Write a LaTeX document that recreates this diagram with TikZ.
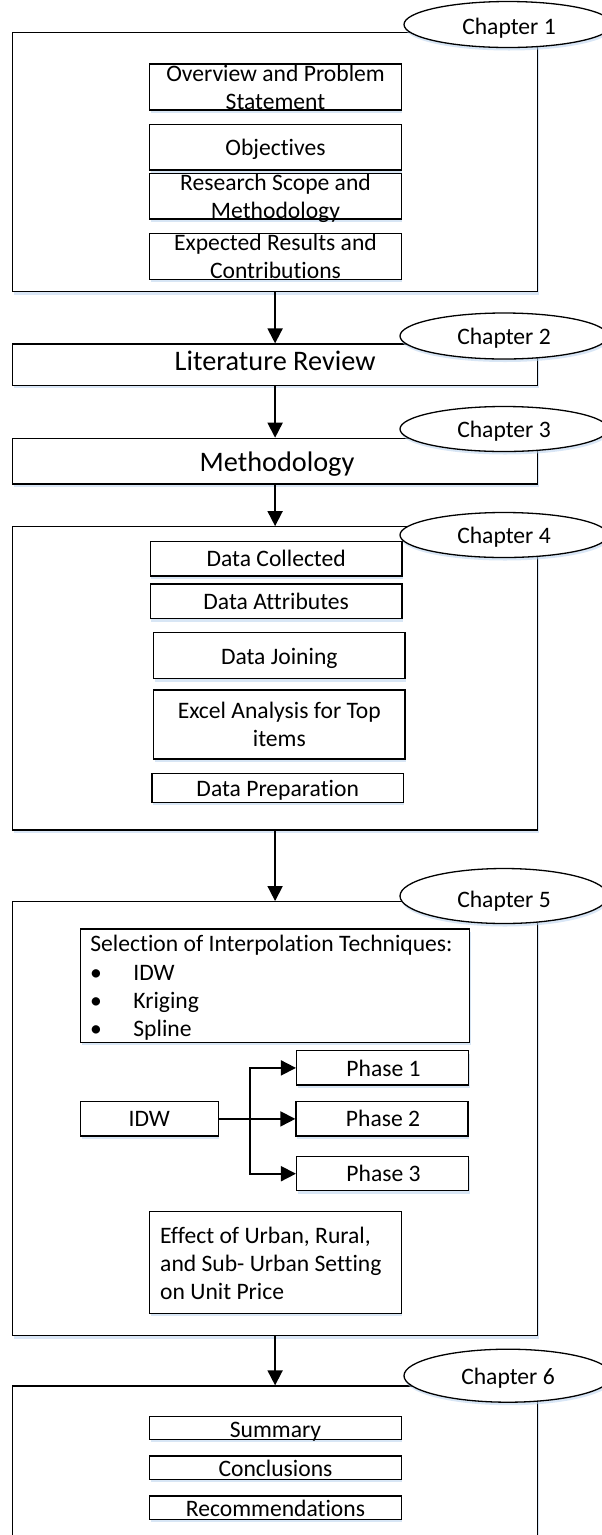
\documentclass[tikz,border=0pt]{standalone}
\usepackage{fontspec}
\setmainfont{Carlito}[Ligatures={NoCommon}]
\usetikzlibrary{shapes.geometric,arrows.meta,shadows}
\definecolor{shadowblue}{RGB}{185,210,238}
\begin{document}
\begin{tikzpicture}[x=1pt,y=-1pt,
  shadowed/.style={drop shadow={shadow xshift=1pt,shadow yshift=-3pt,fill=shadowblue,opacity=.55}},
  chapbox/.style={draw, line width=1.3pt, fill=white, rectangle, inner sep=0pt, minimum width=524.8pt, shadowed},
  itembox/.style={draw, line width=1.3pt, fill=white, rectangle, inner sep=0pt, shadowed},
  midbox/.style={itembox, minimum width=251.5pt},
  phasebox/.style={itembox, minimum width=172pt, minimum height=34.3pt},
  chaplabel/.style={draw, line width=1.3pt, fill=white, ellipse, inner sep=0pt, minimum width=208pt, minimum height=46pt, shadowed},
  txt/.style={font=\fontsize{23.6}{28}\selectfont, inner sep=0pt, anchor=base},
  ltxt/.style={txt, anchor=base west},
  bigtxt/.style={font=\fontsize{28.3}{34}\selectfont, inner sep=0pt, anchor=base},
  arr/.style={line width=1.8pt, -{Triangle[length=15pt,width=15pt]}},
  link/.style={line width=1.8pt}
]
\useasboundingbox (0,0) rectangle (602,1535);
\clip (0,0) rectangle (602,1535);

% ---------- Chapter 1
\node[chapbox, minimum height=259pt] (c1) at (275.1,162.2) {};
\node[chaplabel] (e1) at (508,24.5) {};
\node[txt] (e1t) at (509,34.3) {Chapter 1};
\node[midbox, minimum height=46pt] (ov) at (275.5,87) {};
\node[txt] (ovt1) at (275.5,81) {Overview and Problem};
\node[txt] (ovt2) at (275.5,109) {Statement};
\node[midbox, minimum height=45.7pt] (ob) at (275.5,147.2) {};
\node[txt] (obt) at (275.5,155) {Objectives};
\node[midbox, minimum height=45.7pt] (rs) at (275.5,196.2) {};
\node[txt] (rst1) at (275.5,190) {Research Scope and};
\node[txt] (rst2) at (275.5,218.3) {Methodology};
\node[midbox, minimum height=46pt] (ex) at (275.5,256.3) {};
\node[txt] (ext1) at (275.5,250.7) {Expected Results and};
\node[txt] (ext2) at (275.5,278) {Contributions};

% ---------- Chapter 2
\node[chapbox, minimum height=41.3pt] (c2) at (275.1,364.7) {};
\node[chaplabel] (e2) at (504,336) {};
\node[txt] (e2t) at (504,344.3) {Chapter 2};
\node[bigtxt] (c2t) at (275.1,370.7) {Literature Review};

% ---------- Chapter 3
\node[chapbox, minimum height=45.7pt] (c3) at (275.1,461.2) {};
\node[chaplabel, minimum height=45pt] (e3) at (504,429) {};
\node[txt] (e3t) at (504,437.3) {Chapter 3};
\node[bigtxt] (c3t) at (277,471.7) {Methodology};

% ---------- Chapter 4
\node[chapbox, minimum height=303.3pt] (c4) at (275.1,678.4) {};
\node[chaplabel, minimum height=45pt] (e4) at (504,535) {};
\node[txt] (e4t) at (504,543.3) {Chapter 4};
\node[midbox, minimum height=34.3pt] (dc) at (276.2,558.9) {};
\node[txt] (dct) at (276.2,566.7) {Data Collected};
\node[midbox, minimum height=34.7pt] (da) at (276.2,601.4) {};
\node[txt] (dat) at (276.2,609) {Data Attributes};
\node[midbox, minimum height=46pt] (dj) at (279.3,655.7) {};
\node[txt] (djt) at (279.3,664.3) {Data Joining};
\node[midbox, minimum height=69pt] (ea) at (279.3,724.5) {};
\node[txt] (eat1) at (279.3,718.3) {Excel Analysis for Top};
\node[txt] (eat2) at (279.3,746.7) {items};
\node[midbox, minimum height=28.6pt] (dp) at (277.7,788) {};
\node[txt] (dpt) at (277.7,796) {Data Preparation};

% ---------- Chapter 5
\node[chapbox, minimum height=434pt] (c5) at (275.1,1118.7) {};
\node[chaplabel, minimum height=55pt] (e5) at (504,896) {};
\node[txt] (e5t) at (504,907.3) {Chapter 5};
\node[itembox, minimum width=388.9pt, minimum height=113.3pt] (sel) at (275.05,985.7) {};
\node[ltxt] (selt) at (90.2,951.7) {Selection of Interpolation Techniques:};
\node[txt] (b1) at (96,980) {\textbullet};
\node[ltxt] (s1) at (133.2,980) {IDW};
\node[txt] (b2) at (96,1008.3) {\textbullet};
\node[ltxt] (s2) at (133.2,1008.3) {Kriging};
\node[txt] (b3) at (96,1036.7) {\textbullet};
\node[ltxt] (s3) at (133.2,1036.7) {Spline};
\node[itembox, minimum width=137.8pt, minimum height=34.3pt] (idw) at (149.5,1118.9) {};
\node[txt] (idwt) at (149.3,1126.7) {IDW};
\node[phasebox] (p1) at (382.6,1067.9) {};
\node[txt] (p1t) at (383.5,1076) {Phase 1};
\node[phasebox] (p2) at (382,1118.9) {};
\node[txt] (p2t) at (383,1126.7) {Phase 2};
\node[phasebox, minimum height=34pt] (p3) at (382.6,1173.7) {};
\node[txt] (p3t) at (383.5,1181.7) {Phase 3};
\coordinate (br) at (250,1118.9);
\draw[link] (idw.east) -- (br);
\draw[arr] (br) |- (p1.west);
\draw[arr] (br) -- (p2.west);
\draw[arr] (br) |- (p3.west);
\node[midbox, minimum height=101.6pt] (eff) at (275.5,1262.5) {};
\node[ltxt] (eft1) at (160,1243.3) {Effect of Urban, Rural,};
\node[ltxt] (eft2) at (160,1271.7) {and Sub- Urban Setting};
\node[ltxt] (eft3) at (160,1299.3) {on Unit Price};

% ---------- Chapter 6
\node[chapbox, minimum height=164pt] (c6) at (275.1,1468) {};
\node[chaplabel, minimum height=53pt] (e6) at (508,1375.7) {};
\node[txt] (e6t) at (508,1384) {Chapter 6};
\node[midbox, minimum height=22.6pt] (su) at (275.5,1428) {};
\node[txt] (sut) at (275.5,1437) {Summary};
\node[midbox, minimum height=23.3pt] (co) at (275.5,1467.7) {};
\node[txt] (cot) at (275.5,1476.7) {Conclusions};
\node[midbox, minimum height=23.3pt] (rc) at (275.5,1507.7) {};
\node[txt] (rct) at (275.5,1516.7) {Recommendations};

% ---------- flow arrows
\draw[arr] (c1.south) -- (c2.north);
\draw[arr] (c2.south) -- (c3.north);
\draw[arr] (c3.south) -- (c4.north);
\draw[arr] (c4.south) -- (c5.north);
\draw[arr] (c5.south) -- (c6.north);
\end{tikzpicture}
\end{document}
